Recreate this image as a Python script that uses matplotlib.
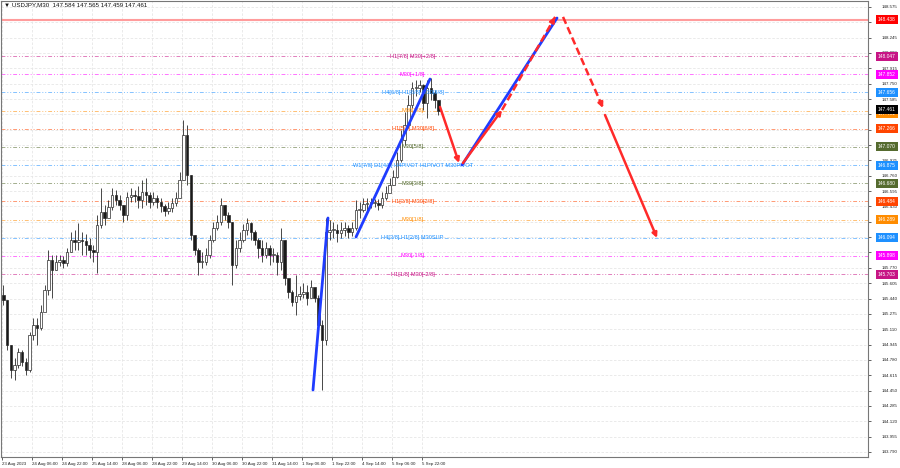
import numpy as np
import matplotlib.pyplot as plt
from matplotlib import transforms

plt.rcParams['font.family'] = ['Liberation Sans', 'DejaVu Sans']

header = '\u25bc USDJPY,M30  147.584 147.565 147.459 147.461'

# 2h candles (4 x M30 bars each), x axis counts M30 bars like MT4 does
first_open = 145.480
closes = [145.424, 144.940, 144.671, 144.725, 144.865, 144.757, 144.671, 145.048, 145.155, 145.123,
          145.295, 145.532, 145.854, 145.747, 145.833, 145.854, 145.822, 145.940, 146.069, 146.048,
          146.069, 146.059, 146.016, 145.962, 145.940, 146.231, 146.370, 146.306, 146.424, 146.553,
          146.499, 146.446, 146.338, 146.532, 146.553, 146.542, 146.499, 146.585, 146.553, 146.478,
          146.521, 146.478, 146.435, 146.381, 146.413, 146.467, 146.521, 146.714, 147.198, 146.768,
          146.123, 145.962, 145.833, 145.833, 145.908, 146.069, 146.198, 146.263, 146.446, 146.338,
          146.263, 145.800, 145.983, 146.069, 146.177, 146.252, 146.155, 146.069, 145.983, 145.908,
          145.983, 145.908, 145.908, 145.833, 146.069, 145.661, 145.510, 145.403, 145.467, 145.489,
          145.510, 145.446, 145.564, 145.446, 145.155, 144.994, 146.155, 146.177, 146.177, 146.145,
          146.177, 146.198, 146.155, 146.198, 146.392, 146.392, 146.456, 146.467, 146.467, 146.467,
          146.446, 146.521, 146.575, 146.661, 146.747, 146.930, 147.145, 147.306, 147.521, 147.704,
          147.704, 147.736, 147.542, 147.704, 147.650, 147.575, 147.461]
highs = [145.585, 145.424, 144.940, 144.800, 144.908, 144.887, 144.800, 145.080, 145.231, 145.231,
         145.370, 145.585, 145.962, 145.908, 145.908, 145.908, 145.897, 145.983, 146.155, 146.177,
         146.252, 146.155, 146.134, 146.091, 146.016, 146.338, 146.628, 146.446, 146.499, 146.628,
         146.607, 146.553, 146.446, 146.585, 146.628, 146.607, 146.650, 146.714, 146.736, 146.585,
         146.585, 146.553, 146.521, 146.456, 146.478, 146.521, 146.585, 146.800, 147.360, 147.306,
         146.768, 146.123, 145.983, 145.940, 145.983, 146.123, 146.263, 146.338, 146.521, 146.446,
         146.370, 146.263, 146.069, 146.155, 146.241, 146.306, 146.263, 146.177, 146.091, 146.069,
         146.048, 146.016, 145.983, 145.940, 146.198, 146.069, 145.639, 145.532, 145.693, 145.575,
         145.607, 145.585, 145.639, 145.532, 145.478, 145.209, 146.306, 146.284, 146.263, 146.241,
         146.263, 146.263, 146.231, 146.263, 146.499, 146.478, 146.521, 146.521, 146.521, 146.510,
         146.510, 146.585, 146.650, 146.736, 146.822, 147.016, 147.252, 147.446, 147.628, 147.768,
         147.790, 147.790, 147.747, 147.790, 147.811, 147.682, 147.575]
lows = [145.370, 144.887, 144.585, 144.564, 144.693, 144.714, 144.618, 144.650, 144.994, 144.940,
        145.102, 145.317, 145.478, 145.446, 145.747, 145.790, 145.768, 145.790, 145.940, 145.962,
        145.962, 145.908, 145.908, 145.876, 145.833, 145.714, 146.198, 146.231, 146.338, 146.392,
        146.446, 146.392, 146.263, 146.284, 146.478, 146.478, 146.413, 146.413, 146.446, 146.413,
        146.446, 146.413, 146.370, 146.327, 146.349, 146.370, 146.435, 146.521, 146.714, 146.661,
        146.069, 145.908, 145.693, 145.768, 145.800, 145.876, 146.048, 146.177, 146.231, 146.284,
        146.198, 145.585, 145.768, 145.940, 146.048, 146.123, 146.069, 146.016, 145.876, 145.833,
        145.876, 145.800, 145.833, 145.693, 145.747, 145.585, 145.446, 145.360, 145.263, 145.424,
        145.446, 145.370, 145.456, 145.403, 145.048, 144.456, 144.940, 146.069, 146.091, 146.048,
        146.091, 146.112, 146.091, 146.112, 146.177, 146.306, 146.370, 146.392, 146.413, 146.424,
        146.392, 146.413, 146.499, 146.585, 146.661, 146.736, 146.908, 147.091, 147.274, 147.489,
        147.618, 147.661, 147.467, 147.381, 147.575, 147.489, 147.413]

tick_bars = [0, 32, 64, 96, 128, 160, 192, 224, 256, 288, 320, 352, 384, 416, 448]
tick_labels = ['23 Aug 2023', '24 Aug 06:00', '24 Aug 22:00', '25 Aug 14:00', '28 Aug 06:00',
               '28 Aug 22:00', '29 Aug 14:00', '30 Aug 06:00', '30 Aug 22:00', '31 Aug 14:00',
               '1 Sep 06:00', '1 Sep 22:00', '4 Sep 14:00', '5 Sep 06:00', '5 Sep 22:00']
price_ticks = [148.575, 148.410, 148.245, 148.080, 147.915, 147.750, 147.585, 147.420, 147.255,
               147.090, 146.925, 146.760, 146.595, 146.430, 146.265, 146.100, 145.935, 145.770,
               145.605, 145.440, 145.275, 145.110, 144.945, 144.780, 144.615, 144.450, 144.285,
               144.120, 143.955, 143.790]
# scale labels hidden behind the level boxes in the terminal
hidden_ticks = [148.410, 147.255, 147.090, 146.265, 146.100]

# murrey levels: price, label on chart, colour
level_prices = [148.047, 147.852, 147.656, 147.461, 147.266, 147.070, 146.875,
                146.680, 146.484, 146.289, 146.094, 145.898, 145.703]
level_names = ['H1[7/8] M30[+2/8]', 'M30[+1/8]', 'H4[6/8] H1[6/8] M30[8/8]', 'M30[7/8]',
               'H1[5/8] M30[6/8]', 'M30[5/8]', 'W1[7/8] D1[4/8] H4PIVOT H1PIVOT M30PIVOT',
               'M30[3/8]', 'H1[3/8] M30[2/8]', 'M30[1/8]', 'H4[3/8] H1[2/8] M30SUP',
               'M30[-1/8]', 'H1[1/8] M30[-2/8]']
level_colors = ['#c71585', '#ff00ff', '#1e90ff', '#ff8c00', '#ff4500', '#556b2f', '#1e90ff',
                '#556b2f', '#ff4500', '#ff8c00', '#1e90ff', '#ff00ff', '#c71585']
top_level = 148.438
last_price = 147.461

# drawn projection: (bar, price) points
blue_lines = [[(331.7, 144.456), (347.7, 146.306)],
              [(377.6, 146.102), (456.5, 147.800)],
              [(490.7, 146.876), (592.0, 148.456)]]
red_solid = [[(467.2, 147.500), (487.5, 146.897)],
             [(491.7, 146.897), (533.3, 147.467)],
             [(643.2, 147.413), (698.7, 146.091)]]
red_dashed = [[(533.3, 147.467), (590.0, 148.468)],
              [(598.4, 148.468), (641.1, 147.489)]]

fig = plt.figure(figsize=(9, 4.68), dpi=100)
ax = fig.add_axes([1/900, 11/468, 867/900, 456/468])
ax.set_xlim(-1.07, 923.7)
ax.set_ylim(143.736, 148.639)

for sp in ax.spines.values():
    sp.set_color('#777777')
    sp.set_linewidth(0.8)

ax.yaxis.tick_right()
ax.set_yticks(price_ticks)
ax.set_yticklabels(['' if p in hidden_ticks else f'{p:.3f}' for p in price_ticks])
ax.set_xticks(tick_bars)
ax.set_xticklabels(tick_labels, ha='left')
ax.tick_params(axis='both', labelsize=3.2, length=2, width=0.5, colors='#222222', pad=1.5)
ax.tick_params(axis='y', pad=8)
ax.grid(True, color='#e6e6e6', linestyle=(0, (3, 2)), linewidth=0.6)
ax.set_axisbelow(True)

# candles
opens = [first_open] + closes[:-1]
xs = np.arange(len(closes)) * 4 + 1.5
ax.vlines(xs, lows, highs, color='#2a2a2a', linewidth=0.6, zorder=3)
for x, o, c in zip(xs, opens, closes):
    up = c >= o
    ax.bar(x, max(abs(c - o), 0.006), width=2.6, bottom=min(o, c),
           color='#ffffff' if up else '#1a1a1a', edgecolor='#2a2a2a', linewidth=0.5, zorder=4)

# levels
ax.axhline(top_level, color='#ff9c9c', linewidth=1.5, zorder=2)
for p, name, col in zip(level_prices, level_names, level_colors):
    ax.axhline(p, color=col, linewidth=0.7, alpha=0.55, linestyle=(0, (4, 2, 1, 2, 1, 2)), zorder=2)
    ax.text(438, p, name, color=col, fontsize=4.1, ha='center', va='center', zorder=5)

# projection
for seg in blue_lines:
    (x0, y0), (x1, y1) = seg
    ax.plot([x0, x1], [y0, y1], color='#1f3cff', linewidth=2, solid_capstyle='round', zorder=6)
for seg in red_solid:
    (x0, y0), (x1, y1) = seg
    ax.annotate('', xy=(x1, y1), xytext=(x0, y0),
                arrowprops=dict(arrowstyle='-|>', color='#ff2a2a', lw=1.8,
                                mutation_scale=7, shrinkA=0, shrinkB=0), zorder=6)
for seg in red_dashed:
    (x0, y0), (x1, y1) = seg
    ax.plot([x0, x1], [y0, y1], color='#ff2a2a', linewidth=1.8, linestyle=(0, (3, 1.5)), zorder=6)
    ax.annotate('', xy=(x1, y1), xytext=(x1 - (x1 - x0) * 0.05, y1 - (y1 - y0) * 0.05),
                arrowprops=dict(arrowstyle='-|>', color='#ff2a2a', lw=1.8,
                                mutation_scale=7, shrinkA=0, shrinkB=0), zorder=6)

# price boxes on the right scale
trans = transforms.blended_transform_factory(ax.transAxes, ax.transData)
def price_box(p, col, dy=0):
    t = transforms.offset_copy(trans, fig=fig, y=dy, units='points')
    ax.text(1.0115, p, f'{p:.3f}', transform=t, fontsize=3.5, color='white', ha='left',
            va='center', clip_on=False, zorder=10,
            bbox=dict(boxstyle='square,pad=0.4', facecolor=col, edgecolor='none'))

price_box(top_level, '#ff0000')
for p, col in zip(level_prices, level_colors):
    price_box(p, col, dy=-1.8 if p == last_price else 0)
price_box(last_price, '#000000', dy=0.8)

fig.text(4/900, 1 - 5/468, header, fontsize=4.4, va='center', ha='left', color='#111111')

fig.savefig('out.png', dpi=100, facecolor='white')
